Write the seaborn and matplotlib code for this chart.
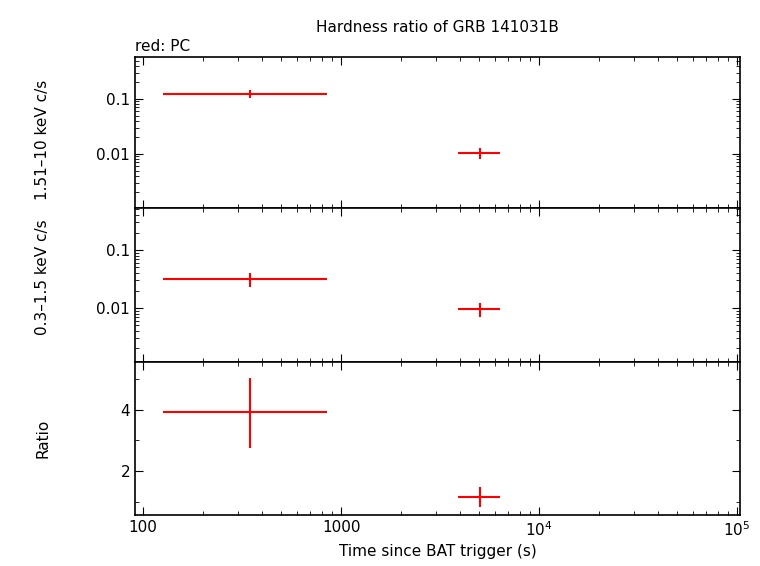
import numpy as np
import matplotlib
matplotlib.use("Agg")
import matplotlib.pyplot as plt
import seaborn as sns
from matplotlib.ticker import LogLocator, NullFormatter, FixedLocator, FixedFormatter

sns.set_style("ticks")
plt.rcParams['font.family'] = 'DejaVu Sans'
plt.rcParams['font.size'] = 11
plt.rcParams['text.color'] = 'black'
plt.rcParams['axes.labelcolor'] = 'black'
plt.rcParams['xtick.color'] = 'black'
plt.rcParams['ytick.color'] = 'black'
plt.rcParams['axes.edgecolor'] = 'black'

# bin centres and extents (s)
t_mid = [347, 5030]
t_lo = [126, 3900]
t_hi = [850, 6350]

# hard band 1.5-10 keV
hard = [0.123, 0.0104]
hard_err = [0.02, 0.0022]
# soft band 0.3-1.5 keV
soft = [0.0316, 0.0096]
soft_err = [0.0085, 0.0026]
# hardness ratio
ratio = [3.93, 1.15]
ratio_lo = [2.75, 0.82]
ratio_hi = [5.05, 1.48]

xerr = [np.array(t_mid) - np.array(t_lo), np.array(t_hi) - np.array(t_mid)]

fig = plt.figure(figsize=(7.6, 5.66), dpi=100)
left, right = 135 / 760, 740 / 760
tops = [57, 208, 362, 515]
axes = []
for i in range(3):
    y0 = 1 - tops[i + 1] / 566
    h = (tops[i + 1] - tops[i]) / 566
    axes.append(fig.add_axes([left, y0, right - left, h]))

kw = dict(fmt='none', ecolor='red', elinewidth=1.5, capsize=0)
axes[0].errorbar(t_mid, hard, xerr=xerr, yerr=hard_err, **kw)
axes[1].errorbar(t_mid, soft, xerr=xerr, yerr=soft_err, **kw)
axes[2].errorbar(t_mid, ratio, xerr=xerr,
                 yerr=[np.array(ratio) - np.array(ratio_lo), np.array(ratio_hi) - np.array(ratio)], **kw)

for ax in axes:
    ax.set_xscale('log')
    ax.set_xlim(91, 1.035e5)
    ax.tick_params(which='both', direction='in', top=True, right=True)
    ax.tick_params(which='major', length=6)
    ax.tick_params(which='minor', length=3)
    for s in ax.spines.values():
        s.set_linewidth(1.2)

for ax, lim in zip(axes[:2], [(0.00104, 0.58), (0.00117, 0.53)]):
    ax.set_yscale('log')
    ax.set_ylim(*lim)
    ax.yaxis.set_major_locator(FixedLocator([0.01, 0.1]))
    ax.yaxis.set_major_formatter(FixedFormatter(['0.01', '0.1']))
    ax.yaxis.set_minor_locator(LogLocator(subs=np.arange(2, 10)))
    ax.yaxis.set_minor_formatter(NullFormatter())
    ax.set_xticklabels([])
    ax.xaxis.set_minor_formatter(NullFormatter())

axes[2].set_ylim(0.56, 5.57)
axes[2].set_yticks([2, 4])
axes[2].set_yticks([1, 3, 5], minor=True)
axes[2].set_xticks([100, 1000, 1e4, 1e5])
axes[2].set_xticklabels(['100', '1000', r'$10^4$', r'$10^5$'])

axes[0].set_ylabel('0.3\u20131.5 keV c/s  1.51\u201310 keV c/s'.split('  ')[1])
axes[1].set_ylabel('0.3\u20131.5 keV c/s')
axes[2].set_ylabel('Ratio')
for ax in axes:
    ax.yaxis.set_label_coords(-0.14, 0.5)
axes[0].yaxis.set_label_coords(-0.14, 0.45)
axes[1].yaxis.set_label_coords(-0.14, 0.55)
axes[2].set_xlabel('Time since BAT trigger (s)')
axes[0].set_title('Hardness ratio of GRB 141031B', fontsize=11, pad=18)
axes[0].text(0.0, 1.02, 'red: PC', transform=axes[0].transAxes, ha='left', va='bottom')

fig.savefig('out.png', dpi=100)
